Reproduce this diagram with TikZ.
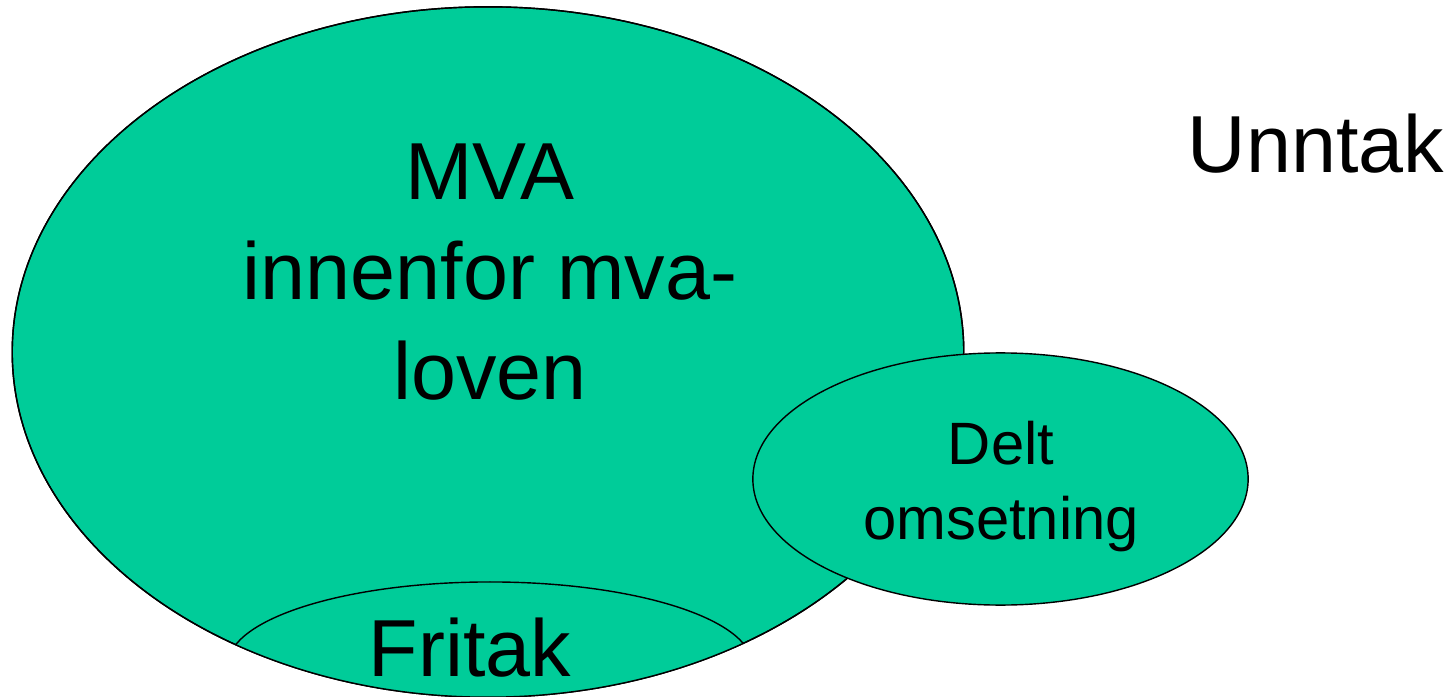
\documentclass[tikz,border=0pt]{standalone}
\usepackage{fontspec}
\setmainfont{Liberation Sans}
\usetikzlibrary{positioning}
\definecolor{mvagreen}{RGB}{0,204,153}
\tikzset{
  area/.style={draw=black, fill=mvagreen, line width=0.4pt},
  bigtext/.style={font=\fontsize{23}{28.5}\selectfont, align=center, inner sep=0pt},
  smalltext/.style={font=\fontsize{17}{21.6}\selectfont, align=center, inner sep=0pt}
}
\begin{document}
\begin{tikzpicture}[x=0.01cm, y=-0.01cm]
		\useasboundingbox (0,0) rectangle (1453,697);
		% draw main area
		\draw [area] (488,352) ellipse [x radius=4.755cm, y radius=3.45cm];
		% draw exemption, cut by main area
		\begin{scope}
			\clip (488,352) ellipse [x radius=4.755cm, y radius=3.45cm];
			\draw [area] (490,665) ellipse [x radius=2.62cm, y radius=0.83cm];
		\end{scope}
		\draw (488,352) ellipse [x radius=4.755cm, y radius=3.45cm];
		% draw shared turnover
		\draw [area] (1000.5,479) ellipse [x radius=2.475cm, y radius=1.26cm];
		% draw labels
		\node [bigtext, anchor=north] (mva) at (490,143) {MVA\\innenfor mva-\\loven};
		\node [bigtext, anchor=north] (fritak) at (470,617) {Fritak};
		\node [smalltext, anchor=north] (delt) at (1001,420) {Delt\\omsetning};
		\node [bigtext, anchor=north] (unntak) at (1316,113) {Unntak};
\end{tikzpicture}
\end{document}
